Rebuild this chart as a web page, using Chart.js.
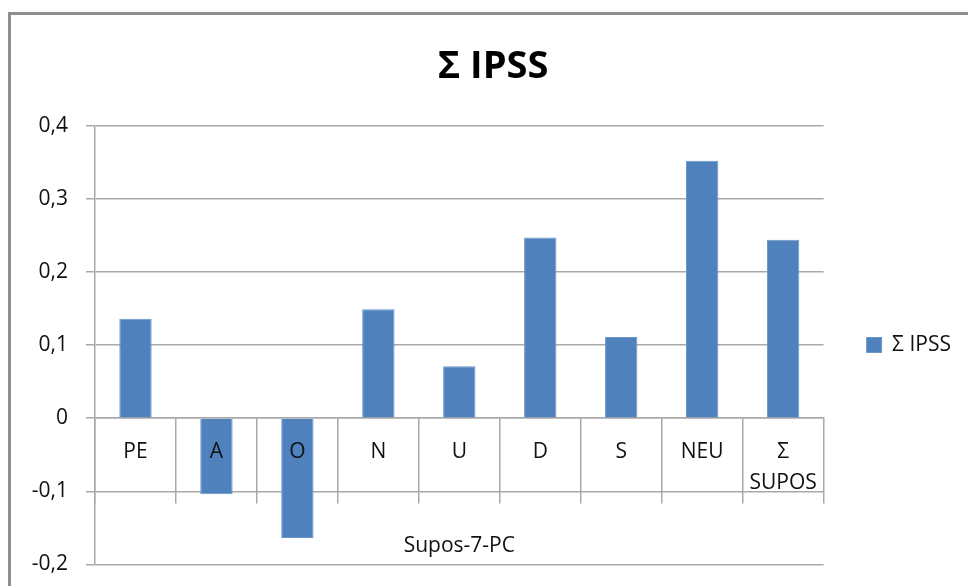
<!DOCTYPE html>
<html><head><meta charset="utf-8">
<script src="https://cdn.jsdelivr.net/npm/chart.js@4.4.1/dist/chart.umd.min.js"></script>
<style>
html,body{margin:0;padding:0;background:#fff;overflow:hidden;}
#wrap{position:relative;width:968px;height:586px;overflow:hidden;}
#frame{position:absolute;left:8px;top:12px;width:980px;height:600px;border-left:3px solid #8e8e8e;border-top:3px solid #8e8e8e;pointer-events:none;}
canvas{position:absolute;left:0;top:0;}
</style></head><body>
<div id="wrap"><canvas id="c" width="968" height="595"></canvas><div id="frame"></div></div>
<script>
const categories = ['PE', 'A', 'O', 'N', 'U', 'D', 'S', 'NEU', ['Σ', 'SUPOS']];
const ipssValues = [0.136, -0.104, -0.164, 0.149, 0.071, 0.247, 0.111, 0.352, 0.244];
const yTicks = [-0.2, -0.1, 0, 0.1, 0.2, 0.3, 0.4];
const seriesName = 'Σ IPSS';
const chartTitle = 'Σ IPSS';
const xAxisTitle = 'Supos-7-PC';

const FONT = '"Open Sans", "DejaVu Sans", sans-serif';
const GRID = '#a9a9a9';

new Chart(document.getElementById('c'), {
  type: 'bar',
  data: {
    labels: categories,
    datasets: [{
      label: seriesName,
      data: ipssValues,
      backgroundColor: '#4f81bd',
      borderColor: '#6b96cc',
      borderWidth: 1,
      barPercentage: 0.4,
      categoryPercentage: 1.0
    }]
  },
  options: {
    responsive: false,
    animation: false,
    devicePixelRatio: 1,
    layout: { padding: { left: 25, right: 7, top: 0, bottom: 0 } },
    plugins: {
      title: {
        display: true,
        text: chartTitle,
        color: '#000',
        font: { family: FONT, size: 38, weight: 'bold' },
        padding: { top: 44, bottom: 36 }
      },
      legend: {
        position: 'right',
        fullSize: false,
        labels: {
          color: '#111',
          font: { family: FONT, size: 21 },
          boxWidth: 15,
          boxHeight: 15,
          padding: 43
        }
      },
      tooltip: { enabled: false }
    },
    scales: {
      y: {
        min: -0.2,
        max: 0.4,
        afterBuildTicks: s => { s.ticks = yTicks.map(v => ({ value: v })); },
        afterFit: s => { s.width = 70; },
        grid: { color: GRID, lineWidth: 1.5, tickLength: 9, tickColor: GRID },
        border: { display: true, color: GRID, width: 1.5 },
        ticks: {
          color: '#111',
          font: { family: FONT, size: 21 },
          padding: 18,
          callback: v => (v === 0 ? '0' : Number(v).toFixed(1).replace('.', ','))
        }
      },
      x: {
        position: { y: 0 },
        grid: {
          display: true,
          drawOnChartArea: false,
          drawTicks: true,
          tickLength: 85,
          offset: true,
          color: GRID,
          tickColor: GRID,
          lineWidth: 1.5
        },
        border: { display: true, color: GRID, width: 1.5 },
        ticks: {
          z: 1,
          color: '#111',
          font: { family: FONT, size: 21, lineHeight: 1.45 },
          padding: -66,
          maxRotation: 0,
          autoSkip: false
        },
        title: {
          display: true,
          text: xAxisTitle,
          color: '#111',
          font: { family: FONT, size: 21 },
          padding: { top: 101, bottom: 0 }
        }
      }
    }
  }
});
</script>
</body></html>
